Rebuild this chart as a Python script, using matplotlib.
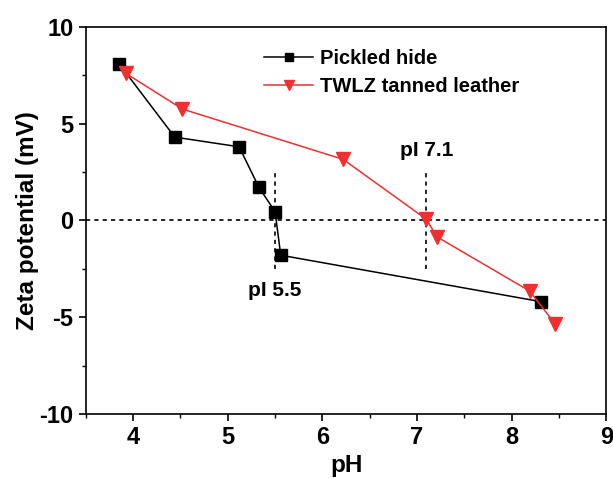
import matplotlib
matplotlib.use('Agg')
import matplotlib.pyplot as plt

plt.rcParams['font.family'] = ['Liberation Sans', 'DejaVu Sans']
plt.rcParams['font.weight'] = 'bold'
plt.rcParams['axes.unicode_minus'] = False

# pickled hide
ph_pickled = [3.85, 4.44, 5.12, 5.33, 5.50, 5.56, 8.31]
zeta_pickled = [8.1, 4.3, 3.8, 1.7, 0.45, -1.8, -4.2]

# TWLZ tanned leather
ph_twlz = [3.92, 4.52, 6.22, 7.10, 7.21, 8.19, 8.46]
zeta_twlz = [7.6, 5.75, 3.15, 0.05, -0.85, -3.65, -5.35]

# isoelectric points
pI_values = [5.5, 7.1]
pI_labels = ['pI 5.5', 'pI 7.1']
pI_label_y = [-3.6, 3.6]

red = '#EE3030'

fig = plt.figure(figsize=(6.13, 4.78), dpi=100)
ax = fig.add_axes([0.140, 0.134, 0.849, 0.810])

ax.plot(ph_pickled, zeta_pickled, color='black', lw=1.1, marker='s', ms=8.5,
        label='Pickled hide')
ax.plot(ph_twlz, zeta_twlz, color=red, lw=1.1, marker='v', ms=10,
        mfc=red, mec=red, label='TWLZ tanned leather')

ax.axhline(0, color='black', ls=(0, (2.5, 2.5)), lw=1.2, zorder=0)
for x, lab, ly in zip(pI_values, pI_labels, pI_label_y):
    ax.plot([x, x], [-2.5, 2.5], color='black', ls=(0, (2.5, 2.5)), lw=1.2, zorder=0)
    ax.text(x, ly, lab, ha='center', va='center', fontsize=15, fontweight='bold')

ax.set_xlim(3.5, 9)
ax.set_ylim(-10, 10)
ax.set_xticks([4, 5, 6, 7, 8, 9])
ax.set_xticks([3.5, 4.5, 5.5, 6.5, 7.5, 8.5], minor=True)
ax.set_yticks([-10, -5, 0, 5, 10])
ax.set_yticks([-7.5, -2.5, 2.5, 7.5], minor=True)
ax.tick_params(which='major', direction='out', length=5, width=1.2, labelsize=17, pad=4)
ax.tick_params(which='minor', direction='out', length=3, width=1.0)
for s in ax.spines.values():
    s.set_linewidth(1.2)

ax.set_xlabel('pH', fontsize=17.5, fontweight='bold', labelpad=3)
ax.set_ylabel('Zeta potential (mV)', fontsize=17.5, fontweight='bold', labelpad=0)

ax.legend(loc='upper left', bbox_to_anchor=(0.327, 0.963), borderaxespad=0,
          frameon=False, fontsize=14.5, markerscale=0.75, handlelength=2.45,
          handletextpad=0.35, labelspacing=0.45)

fig.savefig('out.png', dpi=100)
